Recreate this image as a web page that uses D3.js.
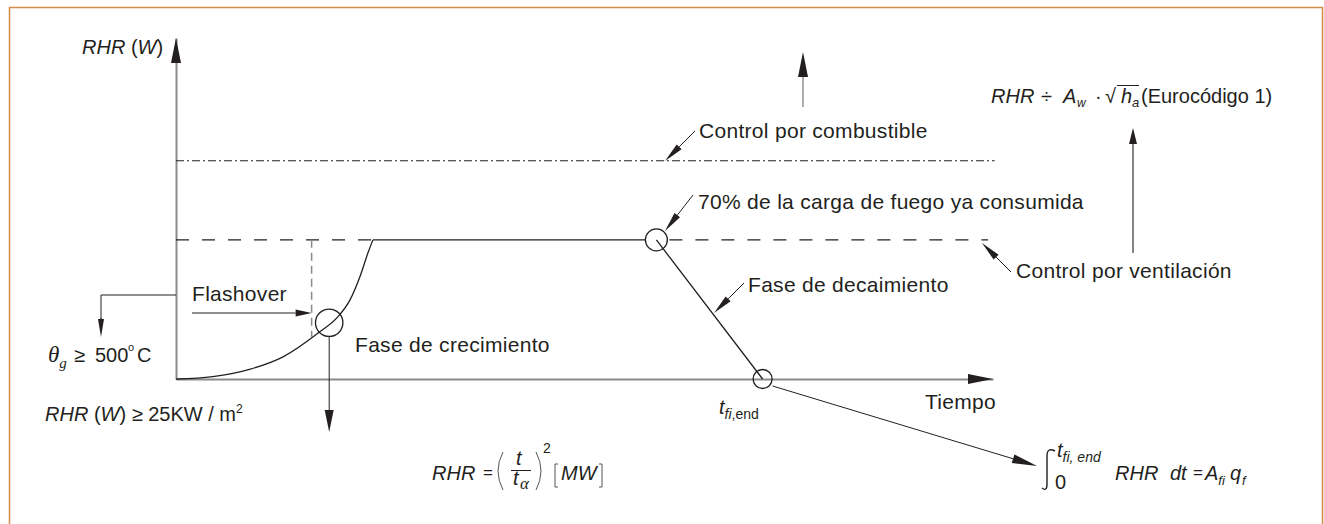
<!DOCTYPE html>
<html>
<head>
<meta charset="utf-8">
<script src="https://cdn.jsdelivr.net/npm/d3@7"></script>
<style>
  body { margin: 0; background: #fff; }
  text { font-family: "Liberation Sans", Arial, sans-serif; fill: #231f20; font-size: 20px; }
  .lab { font-size: 21px; letter-spacing: 0.3px; }
  .it { font-style: italic; }
  .gr { font-family: "Liberation Serif", serif; font-style: italic; }
</style>
</head>
<body>
<div id="main"></div>
<script>
const W = 1324, H = 524;

// axes in arbitrary units (time, RHR as % of axis height)
const timeDomain = [0, 100];
const rhrDomain = [0, 100];

// growth phase (t^2 fire)
const growthT   = [0, 4.5, 9.1, 13.1, 17.4, 19.8, 21.3, 22.5, 23.5, 24.1];
const growthRHR = [0, 0.7, 2.9, 6.5, 13.5, 18.2, 23.2, 29.9, 37.0, 40.8];

// control levels and key events
const ventLevel = 40.8;
const fuelLevel = 64;
const ventEnd = 99.4, fuelEnd = 100.2;
const flashover = {t: 18.75, rhr: 16.5, dashT: 16.6};
const decayStart = {t: 58.8, rhr: 40.8};
const decayEnd = {t: 71.8, rhr: 0};

const ink = "#231f20", axisGray = "#8a8a8a";

const svg = d3.select("#main").append("svg").attr("width", W).attr("height", H);

// orange frame
svg.append("rect").attr("x", 9.5).attr("y", 7.5).attr("width", 1313).attr("height", 540)
  .attr("fill", "none").attr("stroke", "#d38b47").attr("stroke-width", 1.5);

const x = d3.scaleLinear().domain(timeDomain).range([176, 993]);
const y = d3.scaleLinear().domain(rhrDomain).range([379, 38]);

function arrow(g, x1, y1, x2, y2, len, wid, col, sw) {
  const a = Math.atan2(y2 - y1, x2 - x1);
  const bx = x2 - len * Math.cos(a), by = y2 - len * Math.sin(a);
  g.append("line").attr("x1", x1).attr("y1", y1).attr("x2", bx).attr("y2", by)
    .attr("stroke", col || ink).attr("stroke-width", sw || 1);
  const px = -Math.sin(a) * wid / 2, py = Math.cos(a) * wid / 2;
  g.append("path").attr("d", `M${x2},${y2}L${bx + px},${by + py}L${bx - px},${by - py}Z`).attr("fill", ink);
}

// axes (no ticks, only the domain line)
const xAxis = svg.append("g").attr("transform", `translate(0,${y(0)})`)
  .call(d3.axisBottom(x).tickValues([]).tickSizeOuter(0));
const yAxis = svg.append("g").attr("transform", `translate(${x(0)},0)`)
  .call(d3.axisLeft(y).tickValues([]).tickSizeOuter(0));
[xAxis, yAxis].forEach(a => a.select(".domain").attr("stroke", axisGray).attr("stroke-width", 2));
const heads = svg.append("g");
arrow(heads, x(95), y(0), x(100), y(0), 25, 10, "none", 0);
arrow(heads, x(0), y(90), x(0), y(100), 25, 10, "none", 0);

// control lines
svg.append("line").attr("x1", x(0)).attr("x2", x(fuelEnd)).attr("y1", y(fuelLevel)).attr("y2", y(fuelLevel))
  .attr("stroke", ink).attr("stroke-width", 1).attr("stroke-dasharray", "8,3,2,3");
const rA = 11;
[[0, growthT[growthT.length - 1]], [decayStart.t + x.invert(x(0) + rA + 2), ventEnd]].forEach(seg => {
  svg.append("line").attr("x1", x(seg[0])).attr("x2", x(seg[1])).attr("y1", y(ventLevel)).attr("y2", y(ventLevel))
    .attr("stroke", ink).attr("stroke-width", 1.1).attr("stroke-dasharray", "13,13");
});

// flashover dashed vertical
svg.append("line").attr("x1", x(flashover.dashT)).attr("x2", x(flashover.dashT))
  .attr("y1", y(ventLevel)).attr("y2", y(ventLevel) + 97)
  .attr("stroke", axisGray).attr("stroke-width", 1.5).attr("stroke-dasharray", "8,5");

// fire curve: growth, plateau, decay
const growth = growthT.map((t, i) => [t, growthRHR[i]]);
svg.append("path").datum(growth)
  .attr("d", d3.line().x(d => x(d[0])).y(d => y(d[1])).curve(d3.curveMonotoneX))
  .attr("fill", "none").attr("stroke", ink).attr("stroke-width", 1.3);
svg.append("line").attr("x1", x(growthT[growthT.length - 1])).attr("x2", x(decayStart.t) - rA)
  .attr("y1", y(ventLevel)).attr("y2", y(ventLevel)).attr("stroke", ink).attr("stroke-width", 1.3);
svg.append("line").attr("x1", x(decayStart.t)).attr("y1", y(decayStart.rhr))
  .attr("x2", x(decayEnd.t)).attr("y2", y(decayEnd.rhr)).attr("stroke", ink).attr("stroke-width", 1.3);

// event circles
const circles = [[flashover.t, flashover.rhr, 13.7], [decayStart.t, decayStart.rhr, rA], [decayEnd.t, decayEnd.rhr, 9.5]];
svg.selectAll("circle.ev").data(circles).join("circle").attr("class", "ev")
  .attr("cx", d => x(d[0])).attr("cy", d => y(d[1])).attr("r", d => d[2])
  .attr("fill", "none").attr("stroke", ink).attr("stroke-width", 1.3);

// leader arrows
const ann = svg.append("g");
arrow(ann, 803, 107, 803, 52, 25, 10, "#777", 1.2);
arrow(ann, 695, 131, 665, 161, 20, 7);
arrow(ann, 693, 195, 665, 231, 20, 7);
arrow(ann, 744, 283, 714, 313, 20, 7);
arrow(ann, 1011, 272, 982, 243, 20, 7);
arrow(ann, 1133, 253, 1133, 128, 16, 8, "#777", 1.8);
arrow(ann, 192, 313, x(flashover.dashT), 313, 16, 7);
arrow(ann, x(flashover.t), y(flashover.rhr) + 13.7, x(flashover.t), 432, 22, 9);
ann.append("polyline").attr("points", `${x(0)},295 101,295 101,320`).attr("fill", "none").attr("stroke", ink);
arrow(ann, 101, 318, 101, 337, 18, 6);
arrow(ann, x(decayEnd.t) + 10, y(0) + 7, 1037, 466, 25, 9);

// plain labels
const labels = [
  ["Control por combustible", 699, 138],
  ["70% de la carga de fuego ya consumida", 698, 209],
  ["Fase de decaimiento", 748, 292],
  ["Control por ventilación", 1016, 278],
  ["Flashover", 192, 301],
  ["Fase de crecimiento", 355, 352],
  ["Tiempo", 925, 409]
];
svg.selectAll("text.lab").data(labels).join("text").attr("class", "lab")
  .attr("x", d => d[1]).attr("y", d => d[2]).text(d => d[0]);

// rich labels built from tspans
function rich(px, py, parts) {
  const t = svg.append("text").attr("x", px).attr("y", py);
  parts.forEach(p => {
    const s = t.append("tspan").text(p.t);
    if (p.c) s.attr("class", p.c);
    if (p.x != null) s.attr("x", p.x);
    if (p.y != null) s.attr("y", p.y);
    if (p.s) s.style("font-size", p.s + "px");
  });
  return t;
}

rich(82, 54, [{t: "RHR", c: "it"}, {t: " ("}, {t: "W", c: "it"}, {t: ")"}]);
rich(48, 362, [{t: "θ", c: "gr", s: 23}, {t: "g", c: "gr", s: 15, y: 368}, {t: "≥", x: 74, y: 362}, {t: "500", x: 95}, {t: "o", s: 11, y: 351, x: 128}, {t: "C", x: 137, y: 362}]);
rich(45, 421, [{t: "RHR", c: "it"}, {t: " ("}, {t: "W", c: "it"}, {t: ") ≥ 25KW / m"}, {t: "2", s: 12, y: 413}]);
rich(991, 103, [{t: "RHR", c: "it"}, {t: "÷", x: 1041}, {t: "A", c: "it", x: 1063}, {t: "w", c: "it", s: 12, x: 1077, y: 107},
  {t: "·", x: 1095, y: 103}, {t: "√", x: 1105}, {t: "h", c: "it", x: 1121}, {t: "a", c: "it", s: 13, x: 1132, y: 107},
  {t: "(Eurocódigo 1)", x: 1141, y: 103}]);
svg.append("line").attr("x1", 1117).attr("x2", 1139).attr("y1", 85.5).attr("y2", 85.5).attr("stroke", ink).attr("stroke-width", 1);
rich(719, 414, [{t: "t", c: "it"}, {t: "fi", c: "it", s: 14, y: 419}, {t: ",end", s: 14}]);

// RHR = (t/tα)^2 [MW]
rich(432, 480, [{t: "RHR", c: "it"}, {t: "=", x: 483, s: 17, y: 478}, {t: "t", c: "it", x: 516, y: 465}, {t: "t", c: "it", x: 513, y: 485},
  {t: "α", c: "gr", s: 17, x: 520, y: 489}, {t: "2", s: 14, x: 543, y: 453}, {t: "MW", c: "it", x: 561, y: 480}]);
const br = svg.append("g").attr("fill", "none").attr("stroke", "#555").attr("stroke-width", 1);
br.append("path").attr("d", "M503,452 Q493,471 503,490");
br.append("path").attr("d", "M536,452 Q546,471 536,490");
br.append("path").attr("d", "M558,464 L555,464 L555,487 L558,487");
br.append("path").attr("d", "M599,464 L602,464 L602,487 L599,487");
svg.append("line").attr("x1", 511).attr("x2", 531).attr("y1", 470.5).attr("y2", 470.5).attr("stroke", ink);

// integral of RHR dt = A_fi q_f
svg.append("path").attr("d", "M1055,451 Q1047,447 1047,456 L1047,484 Q1047,492 1042,488")
  .attr("fill", "none").attr("stroke", ink).attr("stroke-width", 1.4);
rich(1057, 457, [{t: "t", c: "it"}, {t: "fi, end", c: "it", s: 14, y: 462}, {t: "0", x: 1055, y: 489},
  {t: "RHR", c: "it", x: 1115, y: 480}, {t: "dt", c: "it", x: 1170}, {t: "=", x: 1193, s: 17, y: 478}, {t: "A", c: "it", x: 1205, y: 480},
  {t: "fi", c: "it", s: 13, y: 485}, {t: "q", c: "it", x: 1230, y: 480}, {t: "f", c: "it", s: 13, x: 1242, y: 485}]);
</script>
</body>
</html>
